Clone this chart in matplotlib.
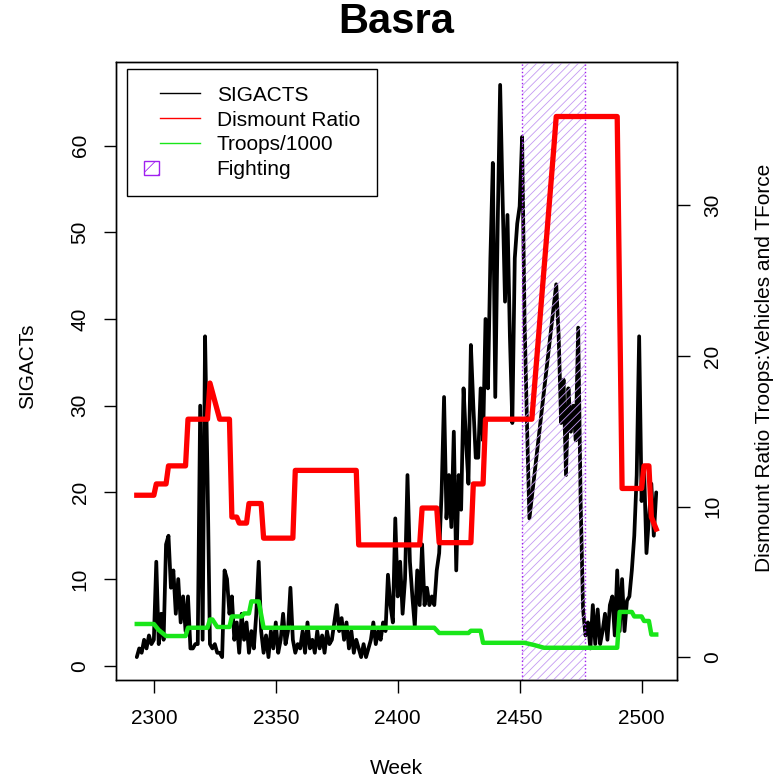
import numpy as np
import matplotlib
matplotlib.use("Agg")
import matplotlib.pyplot as plt
from matplotlib.lines import Line2D
from matplotlib.patches import Patch, Rectangle
from matplotlib.legend_handler import HandlerBase, HandlerPatch

plt.rcParams["font.family"] = ["Liberation Sans", "DejaVu Sans"]
plt.rcParams["hatch.color"] = "#A020F0"
plt.rcParams["hatch.linewidth"] = 0.6

# weekly SIGACTS, first week 2293 (None = no point, line joins across)
start_week = 2293
sigacts = [
    1.0, 2.0, 1.5, 3.0, 2.0, 3.5, 2.5, 3.0, 12.0, 2.5,
    6.0, 3.0, 14.0, 15.0, 9.0, 11.0, 6.0, 10.0, 5.0, 8.0,
    4.0, 8.0, 2.0, 2.0, 2.5, 2.5, 30.0, 3.0, 38.0, 22.0,
    2.5, 2.0, 2.5, 1.5, 1.5, 1.0, 11.0, 10.0, 6.0, 8.0,
    3.0, 5.0, 1.5, 6.0, 3.0, 5.0, 1.5, 4.0, 2.0, 6.0,
    12.0, 4.0, 1.5, 3.5, 1.0, 4.0, 2.0, 5.0, 1.5, 3.0,
    6.0, 2.5, 4.0, 9.0, 3.0, 1.5, 2.5, 2.0, 4.0, 1.5,
    5.0, 2.0, 3.0, 1.5, 4.0, 2.0, 3.5, 1.5, 4.0, 2.5,
    3.0, 5.0, 7.0, 4.0, 5.5, 3.0, 5.0, 2.0, 4.0, 1.5,
    3.0, 2.0, 1.0, 2.5, 1.0, 2.0, 3.0, 5.0, 2.5, 4.0,
    3.0, 5.0, 4.0, 10.5, 7.0, 5.0, 17.0, 8.0, 12.0, 6.0,
    10.0, 22.0, 12.0, 8.0, 4.5, 11.0, 7.0, 14.0, 7.0, 9.0,
    7.0, 8.0, 7.0, 11.0, 13.0, 20.0, 31.0, 17.0, 22.0, 16.0,
    27.0, 11.0, 22.0, 18.0, 32.0, 26.0, 21.0, 37.0, 30.0, 24.0,
    24.0, 32.0, 26.0, 40.0, 32.0, 47.0, 58.0, 31.0, 51.0, 67.0,
    54.0, 42.0, 52.0, 38.0, 28.0, 47.0, 51.0, 53.0, 61.0, 40.0,
    28.0, 17.0, None, None, None, None, None, None, None, None,
    None, None, 44.0, 38.0, 28.0, 33.0, 22.0, 32.0, 27.0, 30.0,
    26.0, 39.0, 19.0, 6.5, 3.5, 5.0, 2.0, 7.0, 2.5, 6.5,
    2.5, 4.0, 6.0, 3.0, 7.0, 8.0, 3.5, 11.0, 4.0, 10.0,
    4.0, 7.5, 8.0, 11.0, 15.0, 22.0, 38.0, 19.0, 23.0, 13.0,
    17.0, 21.0, 15.0, 20.0,
]

# dismount ratio (right axis), vertices of the step line
ratio_weeks = [2293, 2300, 2301, 2305, 2306, 2313, 2314, 2322, 2323, 2327,
               2331, 2332, 2334, 2335, 2338, 2339, 2344, 2345, 2357, 2358,
               2383, 2384, 2409, 2410, 2416, 2417, 2430, 2431, 2435, 2436,
               2455, 2464, 2465, 2490, 2491, 2492, 2500, 2501, 2503, 2504, 2506]
ratio = [10.75, 10.75, 11.5, 11.5, 12.7, 12.7, 15.8, 15.8, 18.2, 15.8,
         15.8, 9.3, 9.3, 8.9, 8.9, 10.2, 10.2, 7.9, 7.9, 12.4,
         12.4, 7.45, 7.45, 9.9, 9.9, 7.6, 7.6, 11.5, 11.5, 15.8,
         15.8, 33.8, 35.9, 35.9, 23.5, 11.2, 11.2, 12.7, 12.7, 9.3, 8.5]

# troops / 1000 (right axis)
troop_weeks = [2293, 2300, 2302, 2305, 2313, 2314, 2322, 2323, 2324, 2326,
               2331, 2332, 2336, 2337, 2339, 2340, 2343, 2345, 2415, 2417,
               2429, 2430, 2434, 2435, 2452, 2456, 2460, 2490, 2491, 2496,
               2497, 2500, 2501, 2503, 2504, 2506]
troops = [2.2, 2.2, 1.8, 1.4, 1.4, 1.95, 1.95, 2.5, 2.5, 2.0,
          2.0, 2.7, 2.7, 2.9, 2.9, 3.7, 3.7, 1.95, 1.95, 1.6,
          1.6, 1.75, 1.75, 0.95, 0.95, 0.8, 0.62, 0.62, 3.0, 3.0,
          2.7, 2.7, 2.4, 2.4, 1.5, 1.5]

fight_start, fight_end = 2451, 2477

x_ticks = [2300, 2350, 2400, 2450, 2500]
left_ticks = [0, 10, 20, 30, 40, 50, 60]
right_ticks = [0, 10, 20, 30]

PURPLE = "#A020F0"

weeks = np.arange(start_week, start_week + len(sigacts))
sig = np.array([np.nan if v is None else v for v in sigacts])
ok = ~np.isnan(sig)

fig = plt.figure(figsize=(7.82, 7.79), dpi=100)
ax = fig.add_axes([116 / 782, 1 - 680 / 779, 561 / 782, 618 / 779])

ax.plot(weeks[ok], sig[ok], color="black", lw=2.7, zorder=2,
        solid_joinstyle="round", solid_capstyle="round")
# hatched band, light hatch colour to mimic R's dotted shading lines
ax.axvspan(fight_start, fight_end, facecolor="none", edgecolor="#C49AF2",
           hatch="////", lw=0, zorder=3)
ax.axvline(fight_start, color=PURPLE, lw=1.0, ls=":", zorder=3)
ax.axvline(fight_end, color=PURPLE, lw=1.0, ls=":", zorder=3)

pad = 0.04 * (weeks[-1] - weeks[0])
ax.set_xlim(weeks[0] - pad, weeks[-1] + pad)
ax.set_ylim(-1.64, 69.64)
ax.set_xticks(x_ticks)
ax.set_yticks(left_ticks)

ax2 = ax.twinx()
ax2.plot(ratio_weeks, ratio, color="#FF0000", lw=3.8, zorder=3,
         solid_joinstyle="round")
ax2.plot(troop_weeks, troops, color="#19E619", lw=3.2, zorder=3,
         solid_joinstyle="round")
ax2.set_ylim(-1.52, 39.52)
ax2.set_yticks(right_ticks)

for a in (ax, ax2):
    for s in a.spines.values():
        s.set_linewidth(1.0)
ax.tick_params(axis="both", labelsize=15, length=9, width=1, direction="out")
ax.tick_params(axis="x", pad=12)
ax.tick_params(axis="y", pad=10, labelrotation=90)
ax2.tick_params(axis="y", labelsize=15, length=9, width=1, direction="out",
                pad=10, labelrotation=90)
for lbl in ax.get_yticklabels() + ax2.get_yticklabels():
    lbl.set_va("center")

fig.text(396 / 782, 1 - 22 / 779, "Basra", ha="center", va="center",
         fontsize=30, fontweight="bold")
fig.text(396 / 782, 1 - 768 / 779, "Week", ha="center", va="center", fontsize=15)
fig.text(28 / 782, 1 - 366 / 779, "SIGACTs", ha="center", va="center",
         rotation=90, fontsize=15)
fig.text(765 / 782, 1 - 368 / 779, "Dismount Ratio Troops:Vehicles and TForce",
         ha="center", va="center", rotation=90, fontsize=15)


class GapLine(HandlerBase):
    # legend line that leaves room on the left, like R's legend()
    def create_artists(self, legend, orig, xdescent, ydescent, width, height,
                       fontsize, trans):
        y = height / 2 - ydescent
        ln = Line2D([-xdescent + 0.8 * fontsize, -xdescent + width], [y, y],
                    color=orig.get_color(), lw=orig.get_linewidth(), transform=trans)
        return [ln]


def small_box(legend, orig_handle, xdescent, ydescent, width, height, fontsize):
    return Rectangle((-xdescent, -ydescent + height / 2 - 5), 11, 10)


handles = [
    Line2D([], [], color="black", lw=1),
    Line2D([], [], color="#FF0000", lw=1),
    Line2D([], [], color="#19E619", lw=1),
    Patch(facecolor="white", edgecolor=PURPLE, hatch="//", lw=1),
]
labels = ["SIGACTS", "Dismount Ratio", "Troops/1000", "Fighting"]
leg = ax2.legend(handles, labels, loc="upper left",
                 bbox_to_anchor=(127 / 782, 1 - 69 / 779),
                 bbox_transform=fig.transFigure, fontsize=15,
                 frameon=True, fancybox=False, framealpha=1, edgecolor="black",
                 borderpad=0.8, handlelength=2.7, handletextpad=0.8,
                 labelspacing=0.28, borderaxespad=0,
                 handler_map={Line2D: GapLine(), Patch: HandlerPatch(patch_func=small_box)})
leg.get_frame().set_linewidth(1.0)
leg.set_zorder(10)

fig.savefig("out.png", dpi=100)
